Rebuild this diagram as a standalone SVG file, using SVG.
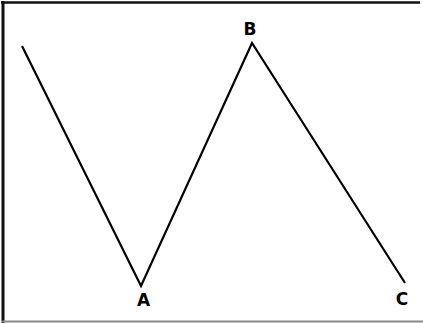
<svg xmlns="http://www.w3.org/2000/svg" width="423" height="324" viewBox="0 0 423 324">
<style>
.lbl{font-family:"DejaVu Sans","Liberation Sans",sans-serif;font-weight:bold;font-size:17px;fill:#000;text-anchor:middle}
.ln{fill:none;stroke:#000;stroke-width:2.2;stroke-linejoin:miter}
</style>
<rect width="423" height="324" fill="#fff"/>
<g id="frame">
<line x1="1" y1="2.5" x2="420" y2="2.5" stroke="#111" stroke-width="2.5"/>
<line x1="3" y1="1" x2="3" y2="323" stroke="#111" stroke-width="3"/>
<line x1="2" y1="321.5" x2="423" y2="321.5" stroke="#888" stroke-width="2"/>
</g>
<g id="connectors">
<polyline class="ln" points="22,46 141,286 252,43 405,283"/>
</g>
<g id="A"><text class="lbl" x="143.5" y="306">A</text></g>
<g id="B"><text class="lbl" x="250" y="35">B</text></g>
<g id="C"><text class="lbl" x="402" y="305">C</text></g>
</svg>
